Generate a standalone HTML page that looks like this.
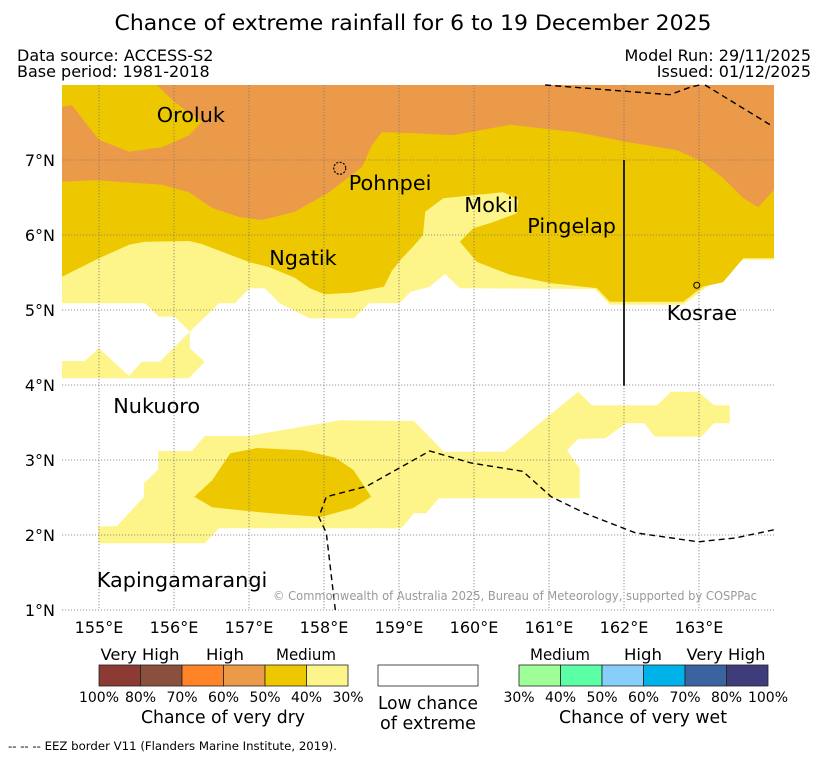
<!DOCTYPE html>
<html><head><meta charset="utf-8"><style>
html,body{margin:0;padding:0;background:#fff;}
svg{display:block;font-family:"DejaVu Sans","Liberation Sans",sans-serif;}
</style></head><body>
<svg id="chart" width="827" height="758" viewBox="0 0 827 758" xmlns="http://www.w3.org/2000/svg">
<text x="413" y="30" text-anchor="middle" font-size="21" textLength="597" lengthAdjust="spacingAndGlyphs">Chance of extreme rainfall for 6 to 19 December 2025</text>
<text x="17" y="61" font-size="16">Data source: ACCESS-S2</text>
<text x="17" y="77" font-size="16">Base period: 1981-2018</text>
<text x="811" y="61" font-size="16" text-anchor="end">Model Run: 29/11/2025</text>
<text x="811" y="77" font-size="16" text-anchor="end">Issued: 01/12/2025</text>
<defs><clipPath id="mapclip"><rect x="62" y="85" width="712" height="525"/></clipPath></defs>
<g id="map" clip-path="url(#mapclip)"></g>
<g id="overlay"></g>
<g id="legend"></g>
<text x="8" y="750" font-size="11.5" textLength="329" lengthAdjust="spacingAndGlyphs">-- -- -- EEZ border V11 (Flanders Marine Institute, 2019).</text>
</svg>
<script>
const NS="http://www.w3.org/2000/svg";
// ---- data (lon/lat) ----
const lonTicks=[155,156,157,158,159,160,161,162,163];
const latTicks=[1,2,3,4,5,6,7];
const lightUpper=[[154.5,8],[164,8],[164,5.67],[163.59,5.67],[162.79,5.07],[161.81,5.07],[161.61,5.28],[159.81,5.29],[159.61,5.48],[159.41,5.31],[159.15,5.24],[159.01,5.09],[158.6,5.09],[158.4,4.89],[157.81,4.89],[157.41,5.09],[157.21,5.29],[157.01,5.29],[156.81,5.09],[156.6,5.09],[156.21,4.71],[156.01,4.91],[155.8,4.91],[155.61,5.09],[154.5,5.09]];
const lightLeftStrip=[[154.5,4.32],[154.81,4.32],[155,4.49],[155.4,4.12],[155.57,4.31],[155.81,4.31],[156.21,4.71],[156.21,4.49],[156.41,4.31],[156.2,4.09],[154.5,4.09]];
const yellowUpper=[[154.5,5.44],[155,5.69],[155.4,5.87],[155.61,5.91],[156.2,5.92],[156.37,5.88],[157,5.64],[157.27,5.57],[157.61,5.43],[157.81,5.29],[158.01,5.21],[158.37,5.23],[158.8,5.31],[158.91,5.53],[159.04,5.69],[159.21,5.87],[159.32,6],[159.35,6.31],[159.59,6.49],[160.39,6.57],[160.59,6.47],[160.57,6.29],[160.25,6.17],[159.99,6.09],[159.81,5.91],[160.04,5.64],[160.48,5.47],[161.01,5.36],[161.64,5.29],[161.81,5.11],[162.79,5.11],[163.05,5.31],[163.32,5.37],[163.59,5.69],[164,5.69],[164,8],[154.5,8]];
const orangeUpper=[[154.5,7.71],[154.64,7.73],[154.81,7.51],[155,7.27],[155.4,7.11],[155.84,7.17],[156.2,7.33],[156.37,7.51],[156.01,7.77],[155.77,8],[164,8],[164,6.6],[163.79,6.37],[163.59,6.49],[163.32,6.76],[163.05,6.97],[162.71,7.13],[162.04,7.24],[161.37,7.37],[160.48,7.47],[159.72,7.33],[159.15,7.36],[158.77,7.37],[158.64,7.2],[158.51,6.91],[158.07,6.57],[157.61,6.31],[157.17,6.2],[156.87,6.24],[156.51,6.36],[156.2,6.57],[155.84,6.67],[154.95,6.73],[154.5,6.71]];
const lightLower=[[154.99,2.11],[155.24,2.12],[155.6,2.51],[155.6,2.69],[155.79,2.87],[155.79,3.12],[156.24,3.12],[156.41,3.32],[156.99,3.32],[158.21,3.53],[159.2,3.52],[159.6,3.11],[160.41,3.11],[161.39,3.91],[161.57,3.73],[162.44,3.73],[162.63,3.91],[162.99,3.91],[163.2,3.73],[163.41,3.73],[163.41,3.49],[163.2,3.49],[163.03,3.31],[162.41,3.31],[162.27,3.49],[162.03,3.49],[161.75,3.29],[161.39,3.28],[161.24,3.13],[161.41,2.89],[161.41,2.49],[159.53,2.49],[159.36,2.29],[159.2,2.29],[159.03,2.09],[156.6,2.09],[156.41,1.89],[154.99,1.89]];
const yellowLower=[[156.27,2.51],[156.51,2.73],[156.75,3.09],[157.11,3.16],[157.72,3.13],[158.15,3.03],[158.39,2.87],[158.63,2.51],[158.39,2.36],[157.96,2.24],[157.29,2.29],[156.51,2.37]];
const eezTop1=[[160.95,8],[162.61,7.87],[162.88,7.97],[163.01,8]];
const eezTop2=[[163.08,8],[163.95,7.47]];
const eezBottom=[[158.15,1],[158.03,2.03],[157.93,2.24],[158.03,2.51],[158.57,2.65],[159.41,3.12],[159.96,2.96],[160.65,2.85],[161.03,2.51],[161.48,2.29],[162.15,2.03],[162.99,1.91],[163.48,1.96],[164,2.07]];
const boundaryLine=[[162,7],[162,3.99]];
const islandNames=["Oroluk","Pohnpei","Mokil","Pingelap","Ngatik","Kosrae","Nukuoro","Kapingamarangi"];
const islandLabelLon=[155.77,158.33,159.87,160.71,157.27,162.57,155.19,154.97];
const islandLabelLat=[7.51,6.6,6.31,6.03,5.6,4.87,3.63,1.31];
const dryLabels=["100%","80%","70%","60%","50%","40%","30%"];
const wetLabels=["30%","40%","50%","60%","70%","80%","100%"];
const dryColors=["#8b3b34","#8b4f3e","#ff8427","#eb9a4a","#edc800","#fdf58a"];
const wetColors=["#9eff98","#5affa6","#87cefa","#00b2ea","#3a63a0","#3e3c7b"];
// ---- axes ----
const px=lon=>99+(lon-155)*75;
const py=lat=>160-(lat-7)*75;
const map=document.getElementById('map'),ov=document.getElementById('overlay'),lg=document.getElementById('legend');
function mk(tag,attrs,parent){const e=document.createElementNS(NS,tag);for(const k in attrs)e.setAttribute(k,attrs[k]);parent.appendChild(e);return e;}
const pts=a=>a.map(p=>px(p[0]).toFixed(1)+","+py(p[1]).toFixed(1)).join(" ");
let e;
e=mk('polygon',{points:pts(lightUpper),fill:'#fdf58a'},map);


e=mk('polygon',{points:pts(lightLeftStrip),fill:'#fdf58a'},map);


e=mk('polygon',{points:pts(yellowUpper),fill:'#edc800'},map);


e=mk('polygon',{points:pts(orangeUpper),fill:'#eb9a4a'},map);


e=mk('polygon',{points:pts(lightLower),fill:'#fdf58a'},map);


e=mk('polygon',{points:pts(yellowLower),fill:'#edc800'},map);


// grid
lonTicks.forEach(l=>{
 e=mk('line',{x1:px(l),x2:px(l),y1:85,y2:610,stroke:'#777','stroke-width':0.8,'stroke-dasharray':'1.2,1.8'},ov);
 
 
 e=mk('text',{x:px(l),y:633,'font-size':16,'text-anchor':'middle'},ov);e.textContent=l+'°E';
 
 
});
latTicks.forEach(l=>{
 e=mk('line',{x1:62,x2:774,y1:py(l),y2:py(l),stroke:'#777','stroke-width':0.8,'stroke-dasharray':'1.2,1.8'},ov);
 
 
 e=mk('text',{x:55,y:py(l)+6,'font-size':16,'text-anchor':'end'},ov);e.textContent=l+'°N';
 
 
});
// eez
[eezTop1,eezTop2,eezBottom].forEach(a=>{
 e=mk('polyline',{points:pts(a),fill:'none',stroke:'#000','stroke-width':1.4,'stroke-dasharray':'6,4'},ov);
 
 
});
e=mk('polyline',{points:pts(boundaryLine),fill:'none',stroke:'#111','stroke-width':1.8},ov);


// islands
e=mk('circle',{cx:px(158.21),cy:py(6.89),r:6,fill:'none',stroke:'#000','stroke-width':1.2,'stroke-dasharray':'2,1.5'},ov);


e=mk('circle',{cx:px(162.97),cy:py(5.33),r:3,fill:'none',stroke:'#000','stroke-width':1},ov);


// labels
islandNames.forEach((n,i)=>{
 e=mk('text',{x:px(islandLabelLon[i]),y:py(islandLabelLat[i]),'font-size':20.8},ov);e.textContent=n;
 
 
});
e=mk('text',{x:757,y:600,'font-size':12,fill:'#999','text-anchor':'end',textLength:484,lengthAdjust:'spacingAndGlyphs'},ov);
e.textContent='© Commonwealth of Australia 2025, Bureau of Meteorology, supported by COSPPac';


// legend
function bar(x0,colors,labels,name){
 const w=249/colors.length;
 colors.forEach((c,i)=>{
  e=mk('rect',{x:x0+i*w,y:665,width:w,height:21,fill:c,stroke:'#222','stroke-width':0.8},lg);
  
  
 });
 labels.forEach((t,i)=>{
  e=mk('text',{x:x0+i*w,y:702,'font-size':14,'text-anchor':'middle'},lg);e.textContent=t;
  
  
 });
}
bar(99,dryColors,dryLabels,'dry');
bar(519,wetColors,wetLabels,'wet');
e=mk('rect',{x:378,y:665,width:100,height:21,fill:'#fff',stroke:'#222','stroke-width':0.8},lg);


// [text, centerX, baselineY, fontSize, width]
const lt=[["Very High",140,660,16,79],["High",225,660,16,38],["Medium",306,660,16,60],["Medium",560,660,16,60],["High",643,660,16,38],["Very High",726,660,16,79],["Chance of very dry",223,723,17.5,164],["Chance of very wet",643,723,17.5,168],["Low chance",428,709,17.5,100],["of extreme",428,729,17.5,96]];
lt.forEach(t=>{
 e=mk('text',{x:t[1],y:t[2],'font-size':t[3],'text-anchor':'middle',textLength:t[4],lengthAdjust:'spacingAndGlyphs'},lg);e.textContent=t[0];
 
 
});
</script>
</body></html>
